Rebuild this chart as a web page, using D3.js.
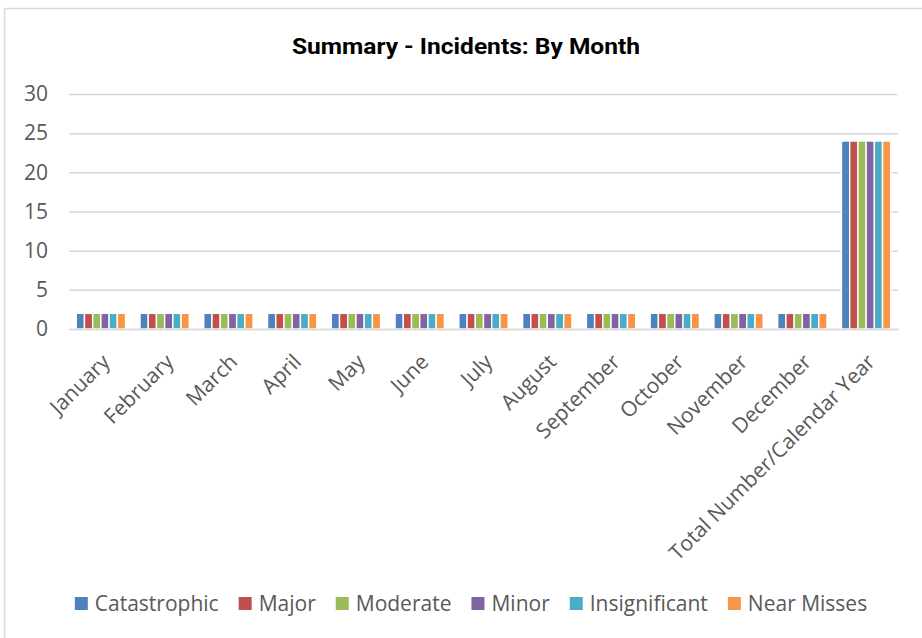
<!DOCTYPE html>
<html>
<head>
<meta charset="utf-8">
<script src="https://cdn.jsdelivr.net/npm/d3@7"></script>
<style>
  body { margin: 0; background: #fff; }
  svg { display: block; }
  text { font-family: "Open Sans", "Noto Sans", sans-serif; fill: #595959; }
</style>
</head>
<body>
<div id="chart"></div>
<script>
const categories = ["January", "February", "March", "April", "May", "June", "July",
  "August", "September", "October", "November", "December", "Total Number/Calendar Year"];
const seriesNames = ["Catastrophic", "Major", "Moderate", "Minor", "Insignificant", "Near Misses"];
const seriesColors = ["#4F81BD", "#C0504D", "#9BBB59", "#8064A2", "#4BACC6", "#F79646"];
// one value list per series, in category order
const catastrophic  = [2, 2, 2, 2, 2, 2, 2, 2, 2, 2, 2, 2, 24];
const major         = [2, 2, 2, 2, 2, 2, 2, 2, 2, 2, 2, 2, 24];
const moderate      = [2, 2, 2, 2, 2, 2, 2, 2, 2, 2, 2, 2, 24];
const minor         = [2, 2, 2, 2, 2, 2, 2, 2, 2, 2, 2, 2, 24];
const insignificant = [2, 2, 2, 2, 2, 2, 2, 2, 2, 2, 2, 2, 24];
const nearMisses    = [2, 2, 2, 2, 2, 2, 2, 2, 2, 2, 2, 2, 24];
const yTicks = [0, 5, 10, 15, 20, 25, 30];

const seriesValues = [catastrophic, major, moderate, minor, insignificant, nearMisses];
const data = categories.map((c, i) => ({
  category: c,
  values: seriesNames.map((s, j) => ({ series: s, value: seriesValues[j][i] }))
}));

const W = 922, H = 638;
const margin = { top: 94, right: 24, bottom: 309, left: 69 };
const width = W - margin.left - margin.right,
      height = H - margin.top - margin.bottom;

const svg = d3.select("#chart").append("svg")
  .attr("width", W)
  .attr("height", H);

// chart area frame (only top and left edges are visible in the picture)
svg.append("rect")
  .attr("x", 4.5).attr("y", 8.5)
  .attr("width", W + 20).attr("height", H + 20)
  .attr("fill", "none")
  .attr("stroke", "#d9d9d9")
  .attr("stroke-width", 1.5);

svg.append("text")
  .attr("x", 466).attr("y", 54)
  .attr("text-anchor", "middle")
  .attr("textLength", 348)
  .attr("lengthAdjust", "spacingAndGlyphs")
  .style("font-family", "'Liberation Sans Narrow', 'Roboto', sans-serif")
  .style("font-weight", "bold")
  .style("font-size", "22px")
  .style("fill", "#000")
  .text("Summary - Incidents: By Month");

const g = svg.append("g")
  .attr("transform", `translate(${margin.left},${margin.top})`);

const x0 = d3.scaleBand()
  .domain(categories)
  .range([0, width])
  .paddingInner(0.227)
  .paddingOuter(0.1135);

const x1 = d3.scaleBand()
  .domain(seriesNames)
  .range([0, x0.bandwidth()])
  .padding(0);

const y = d3.scaleLinear()
  .domain([0, 30])
  .range([height, 0]);

const color = d3.scaleOrdinal().domain(seriesNames).range(seriesColors);

// gridlines
g.append("g")
  .attr("class", "grid")
  .call(d3.axisLeft(y).tickValues(yTicks).tickSize(-width).tickFormat(""))
  .call(s => s.select(".domain").remove())
  .call(s => s.selectAll("line").attr("stroke", "#d9d9d9").attr("stroke-width", 1.5));

// y labels
g.append("g")
  .call(d3.axisLeft(y).tickValues(yTicks).tickSize(0).tickPadding(21))
  .call(s => s.select(".domain").remove())
  .call(s => s.selectAll("text").style("font-size", "21px"));

// bars
g.selectAll(".group")
  .data(data)
  .enter().append("g")
  .attr("class", "group")
  .attr("transform", d => `translate(${x0(d.category)},0)`)
  .selectAll("rect")
  .data(d => d.values)
  .enter().append("rect")
  .attr("x", d => x1(d.series))
  .attr("width", x1.bandwidth())
  .attr("y", d => y(d.value))
  .attr("height", d => height - y(d.value))
  .attr("fill", d => color(d.series))
  .attr("stroke", "#fff")
  .attr("stroke-width", 1.4);

// x axis
const xAxis = g.append("g")
  .attr("transform", `translate(0,${height})`)
  .call(d3.axisBottom(x0).tickSize(0).tickPadding(0));
xAxis.select(".domain").attr("stroke", "#d9d9d9").attr("stroke-width", 1.5);
xAxis.selectAll("text")
  .style("font-size", "21px")
  .style("text-anchor", "end")
  .attr("y", 0)
  .attr("dy", "0.35em")
  .attr("transform", "translate(5,29) rotate(-45)");

// legend
const legend = svg.append("g").attr("transform", "translate(0,604)");
const items = legend.selectAll(".item")
  .data(seriesNames)
  .enter().append("g")
  .attr("class", "item");
items.append("rect")
  .attr("y", -7).attr("width", 13).attr("height", 13)
  .attr("fill", d => color(d));
items.append("text")
  .attr("x", 20).attr("dy", "0.35em")
  .style("font-size", "21px")
  .text(d => d);
let lx = 0;
const gap = 20;
items.each(function () {
  const w = d3.select(this).select("text").node().getComputedTextLength() + 20;
  d3.select(this).attr("transform", `translate(${lx},0)`);
  lx += w + gap;
});
const total = lx - gap;
legend.attr("transform", `translate(${471 - total / 2},604)`);
</script>
</body>
</html>
